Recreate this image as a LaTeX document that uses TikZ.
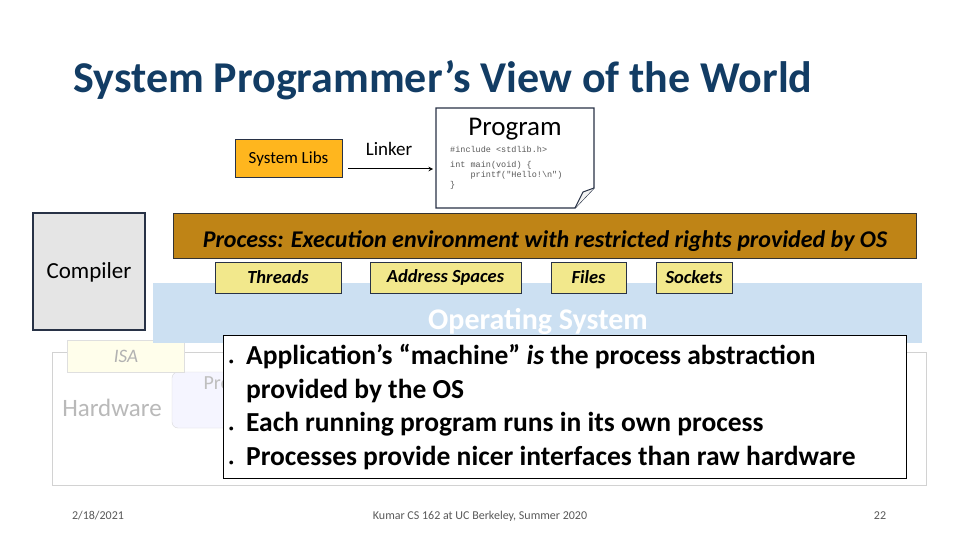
\documentclass[tikz,border=0pt]{standalone}
\usepackage{fontspec}
\setmainfont{Carlito}
\setmonofont{Liberation Mono}
\definecolor{ttl}{RGB}{18,60,100}
\definecolor{libs}{RGB}{255,182,30}
\definecolor{proc}{RGB}{191,132,22}
\definecolor{tag}{RGB}{242,232,140}
\definecolor{osb}{RGB}{204,224,242}
\definecolor{frame}{RGB}{40,50,70}
\begin{document}
\begin{tikzpicture}[x=1pt,y=-1pt,
  tagbox/.style={draw=frame,fill=tag,line width=0.8pt,font=\bfseries\itshape\fontsize{18.5}{20}\selectfont}]
\useasboundingbox (0,0) rectangle (960,540);
\fill[white] (0,0) rectangle (960,540);
\node[anchor=west,text=ttl,font=\bfseries\fontsize{44}{48}\selectfont] (title) at (70,80) {System Programmer’s View of the World};
% hardware faded
\draw[gray!35,line width=1pt] (52,352) rectangle (926,485);
\node[text=gray!55,font=\fontsize{25}{28}\selectfont] (hw) at (112,408) {Hardware};
\draw[gray!30,fill=blue!4,rounded corners=6pt] (172,372) rectangle (300,428);
\node[anchor=west,text=gray!50,font=\fontsize{20}{22}\selectfont] (pro) at (200,383) {Pro};
\node[draw=gray!25,fill=yellow!8,minimum width=117pt,minimum height=32pt,text=gray!60,font=\itshape\fontsize{19}{21}\selectfont] (isa) at (126,356) {ISA};
% OS
\fill[osb] (153,283) rectangle (922,343);
\node[text=white,font=\bfseries\fontsize{30}{32}\selectfont] (os) at (538,321) {Operating System};
% compiler
\node[draw=frame,fill=gray!20,line width=1.4pt,minimum width=112pt,minimum height=117pt] (comp) at (89,271.5) {};
\node[font=\fontsize{23}{25}\selectfont] (ctext) at (89,272) {Compiler};
% process bar
\fill[proc,draw=black!80,line width=0.8pt] (173,213) rectangle (916,258);
\node[font=\bfseries\itshape\fontsize{24}{26}\selectfont] (ptext) at (545,241) {Process: Execution environment with restricted rights provided by OS};
\node[tagbox,minimum width=126pt,minimum height=31pt] (thr) at (278,277.5) {Threads};
\node[tagbox,minimum width=151pt,minimum height=31pt] (as) at (445.5,277.5) {Address Spaces};
\node[tagbox,minimum width=75pt,minimum height=31pt] (files) at (588.5,277.5) {Files};
\node[tagbox,minimum width=76pt,minimum height=31pt] (sock) at (694,277.5) {Sockets};
% libs, linker, program
\node[draw=frame,fill=libs,line width=1pt,minimum width=107pt,minimum height=38pt,font=\fontsize{17}{19}\selectfont] (libsn) at (288.5,159) {System Libs};
\draw[fill=white,draw=frame,line width=1.2pt] (436,108) -- (594,108) -- (594,188) -- (575,208) -- (436,208) -- cycle;
\draw[draw=frame,line width=1pt,fill=gray!10] (594,188) -- (583,192) -- (575,208);
\node (prog) at (515,129) {\fontsize{27}{29}\selectfont Program};
\node[anchor=north west,align=left,font=\ttfamily\fontsize{8.5}{10}\selectfont,text=gray!70!black,inner sep=0pt] (code) at (450,146) {\#include <stdlib.h>\\[5pt]int main(void) \{\\\ \ \ \ printf("Hello!\textbackslash n")\\\}};
\coordinate (lkstart) at (348,169);
\coordinate (lkend) at (433,169);
\draw[-stealth,line width=1pt] (lkstart) -- (lkend);
\node[font=\fontsize{19}{21}\selectfont] (linker) at (389,149) {Linker};
% bullet box
\node[draw=black,fill=white,line width=1pt,minimum width=683pt,minimum height=143pt] (bbox) at (564.5,406.5) {};
\node[anchor=north west,align=left,font=\bfseries\fontsize{27.5}{33.7}\selectfont,inner sep=0pt] (bul) at (229,344) {%
{\small•}\ \ Application’s “machine” \textit{is} the process abstraction\\
\hphantom{{\small•}\ \ }provided by the OS\\
{\small•}\ \ Each running program runs in its own process\\
{\small•}\ \ Processes provide nicer interfaces than raw hardware};
% footer
\node[text=gray!70!black,font=\fontsize{12}{14}\selectfont] (date) at (98,516) {2/18/2021};
\node[text=gray!70!black,font=\fontsize{12}{14}\selectfont] (foot) at (480,516) {Kumar CS 162 at UC Berkeley, Summer 2020};
\node[text=gray!70!black,font=\fontsize{12}{14}\selectfont] (pg) at (880,516) {22};
\end{tikzpicture}
\end{document}
